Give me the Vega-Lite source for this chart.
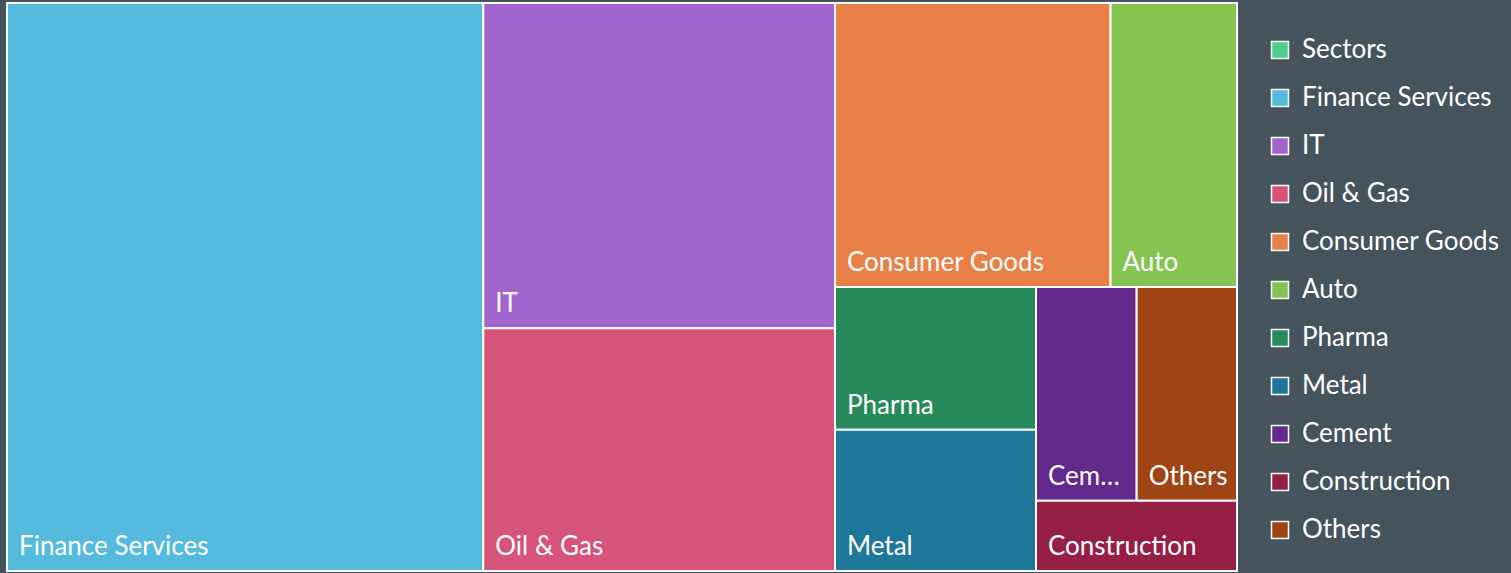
{
  "$schema": "https://vega.github.io/schema/vega-lite/v6.json",
  "width": 1230,
  "height": 568,
  "autosize": {"type": "none"},
  "padding": {"left": 7, "top": 3, "right": 274, "bottom": 2},
  "background": "#45535d",
  "config": {"view": {"stroke": null}, "font": "Lato"},
  "data": {
    "values": [
      {"sector": "Finance Services", "value": 38.72, "g1": "A", "g2": "A", "g3": "A", "g4": "A"},
      {"sector": "IT", "value": 16.37, "g1": "B", "g2": "B1", "g3": "B1", "g4": "B1"},
      {"sector": "Oil & Gas", "value": 12.22, "g1": "B", "g2": "B2", "g3": "B2", "g4": "B2"},
      {"sector": "Consumer Goods", "value": 11.2, "g1": "C", "g2": "C1", "g3": "C1a", "g4": "C1a"},
      {"sector": "Auto", "value": 5.14, "g1": "C", "g2": "C1", "g3": "C1b", "g4": "C1b"},
      {"sector": "Pharma", "value": 4.11, "g1": "C", "g2": "C2", "g3": "C2a", "g4": "C2a1"},
      {"sector": "Metal", "value": 4.06, "g1": "C", "g2": "C2", "g3": "C2a", "g4": "C2a2"},
      {"sector": "Cement", "value": 3.08, "g1": "C", "g2": "C2", "g3": "C2b", "g4": "C2b1"},
      {"sector": "Others", "value": 3.07, "g1": "C", "g2": "C2", "g3": "C2b", "g4": "C2b1"},
      {"sector": "Construction", "value": 2.02, "g1": "C", "g2": "C2", "g3": "C2b", "g4": "C2b2"}
    ]
  },
  "transform": [
    {"joinaggregate": [{"op": "sum", "field": "value", "as": "T"}]},
    {"joinaggregate": [{"op": "sum", "field": "value", "as": "t1"}], "groupby": ["g1"]},
    {"joinaggregate": [{"op": "sum", "field": "value", "as": "t2"}], "groupby": ["g2"]},
    {"joinaggregate": [{"op": "sum", "field": "value", "as": "t3"}], "groupby": ["g3"]},
    {"joinaggregate": [{"op": "sum", "field": "value", "as": "t4"}], "groupby": ["g4"]},
    {"window": [{"op": "sum", "field": "value", "as": "k1"}], "sort": [{"field": "value", "order": "descending"}], "frame": [null, 0]},
    {"window": [{"op": "sum", "field": "value", "as": "k2"}], "groupby": ["g1"], "sort": [{"field": "value", "order": "descending"}], "frame": [null, 0]},
    {"window": [{"op": "sum", "field": "value", "as": "k3"}], "groupby": ["g2"], "sort": [{"field": "value", "order": "descending"}], "frame": [null, 0]},
    {"window": [{"op": "sum", "field": "value", "as": "k4"}], "groupby": ["g3"], "sort": [{"field": "value", "order": "descending"}], "frame": [null, 0]},
    {"window": [{"op": "sum", "field": "value", "as": "k5"}], "groupby": ["g4"], "sort": [{"field": "value", "order": "descending"}], "frame": [null, 0]},
    {"calculate": "datum.k1 - datum.value", "as": "p1"},
    {"calculate": "datum.k2 - datum.value", "as": "p2"},
    {"calculate": "datum.k3 - datum.value", "as": "p3"},
    {"calculate": "datum.k4 - datum.value", "as": "p4"},
    {"calculate": "datum.k5 - datum.value", "as": "p5"},
    {"joinaggregate": [{"op": "min", "field": "p1", "as": "s1"}], "groupby": ["g1"]},
    {"joinaggregate": [{"op": "min", "field": "p2", "as": "s2"}], "groupby": ["g2"]},
    {"joinaggregate": [{"op": "min", "field": "p3", "as": "s3"}], "groupby": ["g3"]},
    {"joinaggregate": [{"op": "min", "field": "p4", "as": "s4"}], "groupby": ["g4"]},
    {"calculate": "datum.s1 / datum.T", "as": "a0"},
    {"calculate": "(datum.s1 + datum.t1) / datum.T", "as": "a1"},
    {"calculate": "datum.s2 / datum.t1", "as": "b0"},
    {"calculate": "(datum.s2 + datum.t2) / datum.t1", "as": "b1"},
    {"calculate": "datum.a0 + (datum.a1 - datum.a0) * datum.s3 / datum.t2", "as": "xa0"},
    {"calculate": "datum.a0 + (datum.a1 - datum.a0) * (datum.s3 + datum.t3) / datum.t2", "as": "xa1"},
    {"calculate": "datum.b0 + (datum.b1 - datum.b0) * datum.s4 / datum.t3", "as": "y0"},
    {"calculate": "datum.b0 + (datum.b1 - datum.b0) * (datum.s4 + datum.t4) / datum.t3", "as": "y1"},
    {"calculate": "datum.xa0 + (datum.xa1 - datum.xa0) * datum.p5 / datum.t4", "as": "x0"},
    {"calculate": "datum.xa0 + (datum.xa1 - datum.xa0) * (datum.p5 + datum.value) / datum.t4", "as": "x1"}
  ],
  "encoding": {
    "x": {"field": "x0", "type": "quantitative", "scale": {"domain": [0, 1], "nice": false, "zero": false}, "axis": null},
    "y": {"field": "y1", "type": "quantitative", "scale": {"domain": [0, 1], "nice": false, "zero": false, "reverse": true}, "axis": null}
  },
  "layer": [
    {
      "mark": {"type": "rect", "stroke": "white", "strokeWidth": 2, "opacity": 1},
      "encoding": {
        "x": {"field": "x0", "type": "quantitative"},
        "x2": {"field": "x1"},
        "y": {"field": "y0", "type": "quantitative"},
        "y2": {"field": "y1"},
        "color": {
          "field": "sector",
          "type": "nominal",
          "scale": {
            "domain": ["Sectors", "Finance Services", "IT", "Oil & Gas", "Consumer Goods", "Auto", "Pharma", "Metal", "Cement", "Construction", "Others"],
            "range": ["#4ccf8c", "#54bbdf", "#a264cf", "#d6537a", "#e88047", "#86c451", "#278a5b", "#1f7899", "#63298c", "#951f45", "#9e4513"]
          },
          "legend": {
            "title": null,
            "orient": "none",
            "legendX": 1260,
            "legendY": 34,
            "padding": 0,
            "symbolType": "square",
            "symbolSize": 289,
            "symbolStrokeColor": "white",
            "symbolStrokeWidth": 1.5,
            "symbolOpacity": 1,
            "labelFont": "Lato",
            "labelFontSize": 26,
            "labelColor": "white",
            "labelOffset": 9,
            "labelLimit": 300,
            "rowPadding": 22
          }
        }
      }
    },
    {
      "mark": {
        "type": "text",
        "align": "left",
        "baseline": "alphabetic",
        "dx": 12,
        "dy": -16,
        "color": "white",
        "font": "Lato",
        "fontSize": 26,
        "limit": {"expr": "(datum.x1 - datum.x0) * width - 18"}
      },
      "encoding": {
        "text": {"field": "sector", "type": "nominal"}
      }
    }
  ]
}
